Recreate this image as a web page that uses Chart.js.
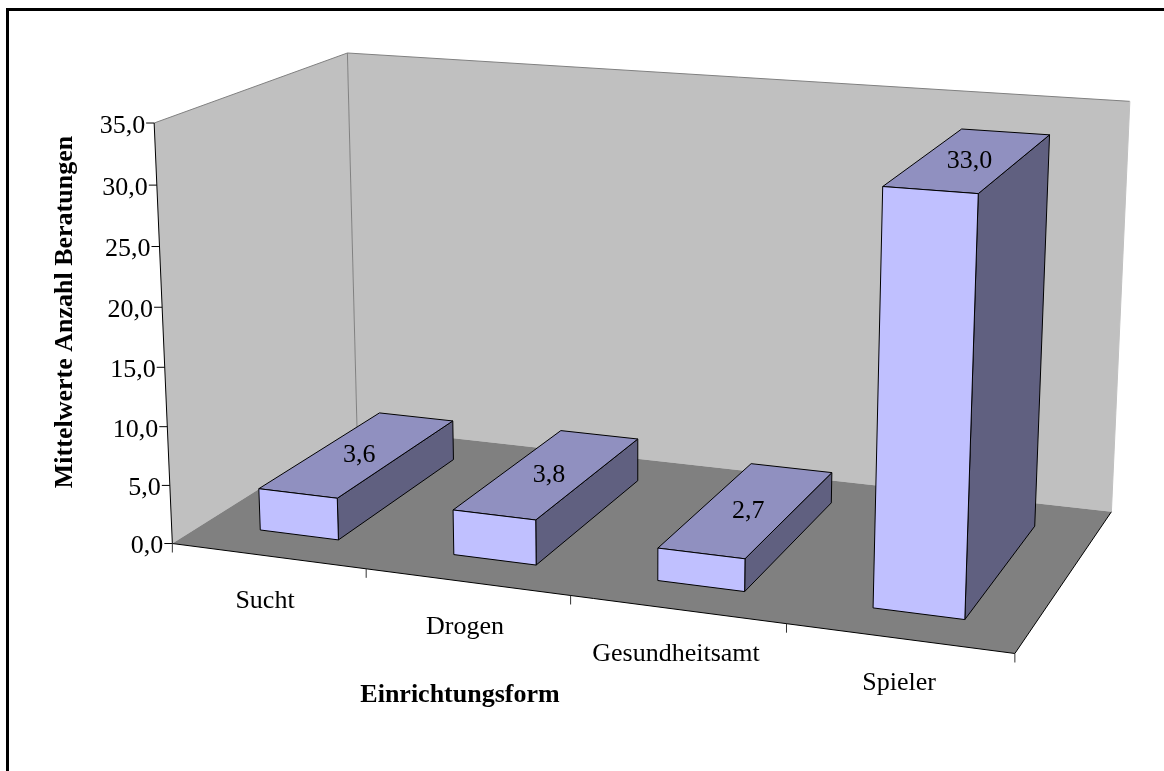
<!DOCTYPE html>
<html>
<head>
<meta charset="utf-8">
<title>Mittelwerte Anzahl Beratungen</title>
<script src="https://cdn.jsdelivr.net/npm/chart.js@4/dist/chart.umd.js"></script>
<style>
html, body { margin: 0; padding: 0; background: #fff; overflow: hidden; }
canvas { display: block; }
</style>
</head>
<body>
<canvas id="myChart" width="1164" height="771"></canvas>
<script>
var categories = ['Sucht', 'Drogen', 'Gesundheitsamt', 'Spieler'];
var values = [3.6, 3.8, 2.7, 33.0];
var yTitle = 'Mittelwerte Anzahl Beratungen';
var xTitle = 'Einrichtungsform';

// front colour of the bars, the top and side are darker shades of it
var barFront = '#c0c0ff';
var barTop = '#9090c0';
var barSide = '#606080';
var wallColor = '#c0c0c0';
var floorColor = '#808080';
var fontFamily = '"Liberation Serif", "Times New Roman", serif';
var tickFont = '26px ' + fontFamily;
var titleFont = 'bold 26px ' + fontFamily;

// where the box corners of the 3D scene land on the canvas: [u, v, w, x, y]
// u runs along the categories, v up the value axis, w into the depth
var boxCorners = [
    [0, 0, 0, 173.3, 544],
    [1, 0, 0, 1014.7, 653.3],
    [0, 0, 1, 356, 427],
    [1, 0, 1, 1111.7, 512],
    [0, 1, 0, 153.3, 122.7],
    [0, 1, 1, 348.3, 53.3],
    [1, 1, 1, 1129.7, 101.3]
];
var barDepthFront = 0.16;
var barDepthBack = 0.83;

// least squares fit of the 3x4 projection matrix, last entry fixed to 1
function fitProjection(points) {
    var n = 11, a = [], i, j, k;
    for (i = 0; i < n; i++) {
        a.push(new Array(n + 1).fill(0));
    }
    function addRow(row, rhs) {
        for (var r = 0; r < n; r++) {
            for (var c = 0; c < n; c++) {
                a[r][c] += row[r] * row[c];
            }
            a[r][n] += row[r] * rhs;
        }
    }
    points.forEach(function (p) {
        var x = p[3] / 1000, y = p[4] / 1000;
        addRow([p[0], p[1], p[2], 1, 0, 0, 0, 0, -x * p[0], -x * p[1], -x * p[2]], x);
        addRow([0, 0, 0, 0, p[0], p[1], p[2], 1, -y * p[0], -y * p[1], -y * p[2]], y);
    });
    for (i = 0; i < n; i++) {
        var best = i;
        for (j = i + 1; j < n; j++) {
            if (Math.abs(a[j][i]) > Math.abs(a[best][i])) best = j;
        }
        var tmp = a[i]; a[i] = a[best]; a[best] = tmp;
        for (j = 0; j < n; j++) {
            if (j === i) continue;
            var f = a[j][i] / a[i][i];
            for (k = i; k <= n; k++) {
                a[j][k] -= f * a[i][k];
            }
        }
    }
    return a.map(function (row, r) { return row[n] / row[r]; });
}

var m = fitProjection(boxCorners);

function project(u, v, w) {
    var d = m[8] * u + m[9] * v + m[10] * w + 1;
    return {
        x: 1000 * (m[0] * u + m[1] * v + m[2] * w + m[3]) / d,
        y: 1000 * (m[4] * u + m[5] * v + m[6] * w + m[7]) / d
    };
}

function face(ctx, pts, fill, stroke) {
    ctx.beginPath();
    pts.forEach(function (p, i) {
        var q = project(p[0], p[1], p[2]);
        if (i === 0) ctx.moveTo(q.x, q.y); else ctx.lineTo(q.x, q.y);
    });
    ctx.closePath();
    if (fill) {
        ctx.fillStyle = fill;
        ctx.fill();
    }
    if (stroke) {
        ctx.strokeStyle = stroke;
        ctx.lineWidth = 1;
        ctx.stroke();
    }
}

function edge(ctx, a, b, color) {
    var p = project(a[0], a[1], a[2]), q = project(b[0], b[1], b[2]);
    ctx.beginPath();
    ctx.moveTo(p.x, p.y);
    ctx.lineTo(q.x, q.y);
    ctx.strokeStyle = color;
    ctx.lineWidth = 1;
    ctx.stroke();
}

function uOf(chart, px) {
    var area = chart.chartArea;
    return (px - area.left) / (area.right - area.left);
}

function vOf(chart, px) {
    var area = chart.chartArea;
    return (area.bottom - px) / (area.bottom - area.top);
}

var scene3d = {
    id: 'scene3d',
    beforeDraw: function (chart) {
        var ctx = chart.ctx;
        // outer frame, the picture is cut off on the right and at the bottom
        ctx.save();
        ctx.fillStyle = '#000';
        ctx.fillRect(6, 8, 1158, 3);
        ctx.fillRect(6, 8, 3, 763);
        ctx.restore();
    },
    beforeDatasetsDraw: function (chart) {
        var ctx = chart.ctx;
        var yScale = chart.scales.y, xScale = chart.scales.x;
        ctx.save();
        face(ctx, [[0, 0, 0], [0, 1, 0], [0, 1, 1], [0, 0, 1]], wallColor);
        face(ctx, [[0, 0, 1], [0, 1, 1], [1, 1, 1], [1, 0, 1]], wallColor);
        face(ctx, [[0, 0, 0], [1, 0, 0], [1, 0, 1], [0, 0, 1]], floorColor);
        edge(ctx, [0, 1, 0], [0, 1, 1], floorColor);
        edge(ctx, [0, 1, 1], [1, 1, 1], floorColor);
        edge(ctx, [0, 0, 1], [0, 1, 1], floorColor);
        edge(ctx, [1, 0, 1], [1, 1, 1], wallColor);
        edge(ctx, [0, 0, 0], [0, 1, 0], '#000');
        edge(ctx, [0, 0, 0], [1, 0, 0], '#000');
        edge(ctx, [1, 0, 0], [1, 0, 1], '#000');

        // value axis ticks and labels
        ctx.font = tickFont;
        ctx.fillStyle = '#000';
        ctx.textAlign = 'right';
        ctx.textBaseline = 'middle';
        yScale.ticks.forEach(function (t) {
            var v = vOf(chart, yScale.getPixelForValue(t.value));
            var p = project(0, v, 0);
            ctx.beginPath();
            ctx.moveTo(p.x - 8, p.y);
            ctx.lineTo(p.x, p.y);
            ctx.strokeStyle = '#000';
            ctx.stroke();
            ctx.fillText(t.value.toFixed(1).replace('.', ','), p.x - 9, p.y + 3);
        });

        // category ticks and labels
        var step = xScale.width / categories.length;
        ctx.textAlign = 'center';
        categories.forEach(function (name, i) {
            var center = uOf(chart, xScale.getPixelForTick(i));
            var right = uOf(chart, xScale.getPixelForTick(i) + step / 2);
            var p = project(right, 0, 0);
            ctx.beginPath();
            ctx.moveTo(p.x, p.y);
            ctx.lineTo(p.x, p.y + 9);
            ctx.strokeStyle = '#333';
            ctx.stroke();
            var q = project(center, 0, 0);
            ctx.fillStyle = '#000';
            ctx.fillText(name, q.x - 3 + i, q.y + 45);
        });
        var a = project(0, 0, 0);
        ctx.beginPath();
        ctx.moveTo(a.x, a.y);
        ctx.lineTo(a.x, a.y + 9);
        ctx.stroke();

        // axis titles
        ctx.font = titleFont;
        ctx.fillText(xTitle, 460, 695);
        ctx.translate(65, 312);
        ctx.rotate(-Math.PI / 2);
        ctx.fillText(yTitle, 0, 0);
        ctx.restore();
    },
    beforeDatasetDraw: function (chart, args) {
        var ctx = chart.ctx;
        var ds = chart.data.datasets[args.index];
        var z0 = barDepthFront, z1 = barDepthBack;
        ctx.save();
        ctx.lineJoin = 'round';
        args.meta.data.forEach(function (bar, i) {
            var half = bar.width / 2;
            var u0 = uOf(chart, bar.x - half), u1 = uOf(chart, bar.x + half);
            var top = vOf(chart, bar.y);
            var bot = vOf(chart, bar.base);
            face(ctx, [[u1, bot, z0], [u1, bot, z1], [u1, top, z1], [u1, top, z0]], barSide, '#000');
            face(ctx, [[u0, top, z0], [u1, top, z0], [u1, top, z1], [u0, top, z1]], barTop, '#000');
            face(ctx, [[u0, bot, z0], [u1, bot, z0], [u1, top, z0], [u0, top, z0]], ds.backgroundColor, '#000');
            var c = project((u0 + u1) / 2, top, (z0 + z1) / 2);
            ctx.font = tickFont;
            ctx.fillStyle = '#000';
            ctx.textAlign = 'center';
            ctx.textBaseline = 'middle';
            ctx.fillText(values[i].toFixed(1).replace('.', ','), c.x, c.y + 2);
        });
        ctx.restore();
        return false;
    }
};

var ctx = document.getElementById('myChart').getContext('2d');
var myChart = new Chart(ctx, {
    type: 'bar',
    data: {
        labels: categories,
        datasets: [{
            label: yTitle,
            data: values,
            backgroundColor: barFront,
            categoryPercentage: 0.41,
            barPercentage: 1
        }]
    },
    options: {
        responsive: false,
        animation: false,
        layout: { padding: 0 },
        plugins: {
            legend: { display: false },
            tooltip: { enabled: false }
        },
        scales: {
            x: { display: false },
            y: { display: false, min: 0, max: 35, ticks: { stepSize: 5 } }
        }
    },
    plugins: [scene3d]
});
</script>
</body>
</html>
